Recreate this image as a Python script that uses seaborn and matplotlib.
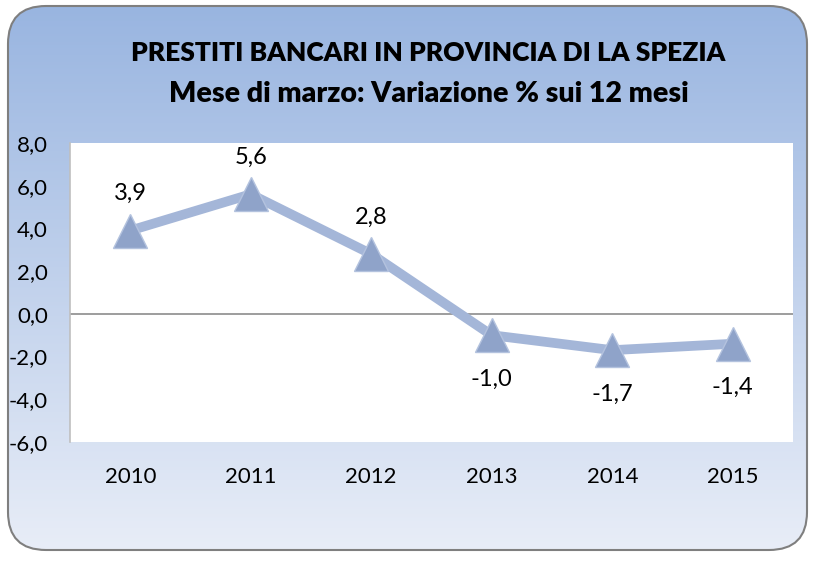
import matplotlib
matplotlib.use("Agg")
import matplotlib.pyplot as plt
from matplotlib.patches import FancyBboxPatch
import seaborn as sns
import numpy as np
import pandas as pd

years = ["2010", "2011", "2012", "2013", "2014", "2015"]
variazione = [3.9, 5.6, 2.8, -1.0, -1.7, -1.4]
y_ticks = [-6, -4, -2, 0, 2, 4, 6, 8]

sns.set_theme(style="white")
plt.rcParams['font.family'] = ['Lato', 'DejaVu Sans']
plt.rcParams['text.color'] = 'black'
plt.rcParams['xtick.color'] = 'black'
plt.rcParams['ytick.color'] = 'black'

df = pd.DataFrame({"anno": years, "var": variazione})

fig = plt.figure(figsize=(8.15, 5.61), dpi=100)

# background panel with vertical gradient and rounded corners
bg = fig.add_axes([0, 0, 1, 1])
bg.set_xlim(0, 815)
bg.set_ylim(561, 0)
bg.axis("off")
grad = np.linspace(0, 1, 256).reshape(-1, 1)
top = np.array([0.60, 0.71, 0.88])
bot = np.array([0.91, 0.93, 0.97])
img = top + (bot - top) * grad[..., None]
img = img.reshape(256, 1, 3)
box = FancyBboxPatch((8, 6), 799, 544, boxstyle="round,pad=0,rounding_size=38",
                     facecolor="none", edgecolor="#7f7f7f", linewidth=1.5, zorder=3)
bg.add_patch(box)
im = bg.imshow(img, extent=[8, 807, 550, 6], aspect="auto", zorder=1)
im.set_clip_path(box)

fig.text(428 / 815, 1 - 53 / 561, "PRESTITI BANCARI IN PROVINCIA DI LA SPEZIA",
         ha="center", va="center", fontsize=19, fontweight="heavy")
fig.text(429 / 815, 1 - 94 / 561, "Mese di marzo: Variazione % sui 12 mesi",
         ha="center", va="center", fontsize=20.5, fontweight="heavy")

ax = fig.add_axes([70 / 815, 1 - 442 / 561, (793 - 70) / 815, (442 - 143) / 561])
ax.set_facecolor("white")
sns.lineplot(data=df, x="anno", y="var", ax=ax, color="#a4b6d8", linewidth=7,
             marker="^", markersize=25, markerfacecolor="#8fa3c9",
             markeredgecolor="#b3c2de", markeredgewidth=1, zorder=3)
ax.axhline(0, color="#8c8c8c", linewidth=1.2, zorder=2)

ax.set_xlim(-0.5, len(years) - 0.5)
ax.set_ylim(-6, 8)
ax.set_yticks(y_ticks)
ax.set_yticklabels([f"{v:.1f}".replace(".", ",") for v in y_ticks], fontsize=16)
ax.tick_params(axis="x", labelsize=16, pad=12)
ax.tick_params(axis="y", pad=10)
ax.set_xlabel("")
ax.set_ylabel("")
for s in ["top", "right", "bottom"]:
    ax.spines[s].set_visible(False)
ax.spines["left"].set_color("#bfbfbf")
ax.spines["left"].set_linewidth(1.2)

for i, v in enumerate(variazione):
    label = f"{v:.1f}".replace(".", ",")
    if v >= 0:
        ax.annotate(label, (i, v), xytext=(0, 19), textcoords="offset points",
                    ha="center", va="bottom", fontsize=17)
    else:
        ax.annotate(label, (i, v), xytext=(0, -24), textcoords="offset points",
                    ha="center", va="top", fontsize=17)

fig.savefig("out.png", dpi=100)
